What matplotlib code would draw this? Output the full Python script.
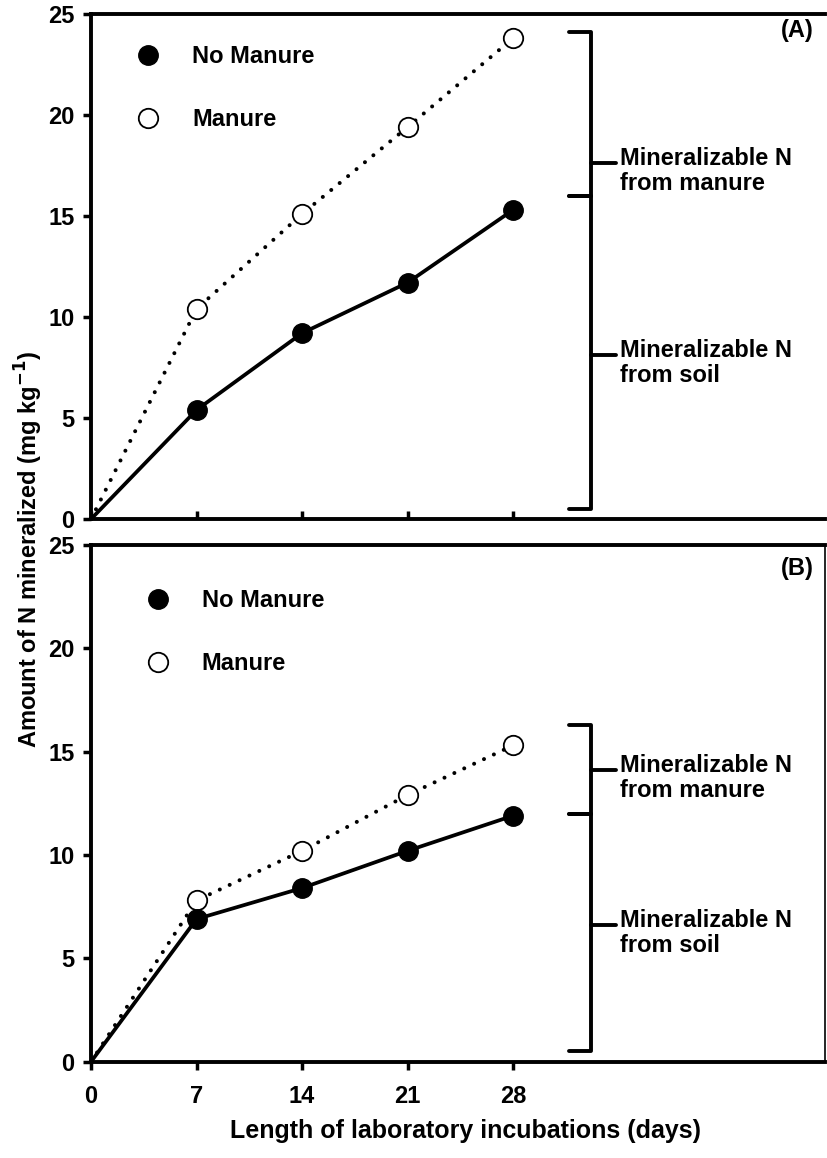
import matplotlib.pyplot as plt
from matplotlib.lines import Line2D
from matplotlib.transforms import ScaledTranslation

plt.rcParams['font.family'] = ['Liberation Sans', 'DejaVu Sans']
plt.rcParams['font.weight'] = 'bold'
plt.rcParams['font.size'] = 17

days = [0, 7, 14, 21, 28]

# panel A
a_no_manure = [0, 5.4, 9.2, 11.7, 15.3]
a_manure = [0, 10.4, 15.1, 19.4, 23.8]
# panel B
b_no_manure = [0, 6.9, 8.4, 10.2, 11.9]
b_manure = [0, 7.8, 10.2, 12.9, 15.3]

# bracket limits (mg/kg): bottom, split, top ; label ticks: soil, manure
a_bracket = [0.5, 16.0, 24.1]
a_marks = [8.1, 17.6]
b_bracket = [0.5, 12.0, 16.3]
b_marks = [6.6, 14.1]

fig = plt.figure(figsize=(8.28, 11.58), dpi=100)
axA = fig.add_axes([0.110, 0.5518, 0.8864, 0.4361])
axB = fig.add_axes([0.110, 0.0832, 0.8864, 0.4462])


def panel(ax, no_manure, manure, bracket, marks, tag, leg_xy, top):
    ax.plot(days, manure, color='black', lw=2.9, linestyle=(0, (0.01, 2.7)),
            dash_capstyle='round', marker='o', ms=14, mfc='white', mec='black',
            mew=1.3, markevery=[1, 2, 3, 4], zorder=3)
    ax.plot(days, no_manure, color='black', lw=2.7, marker='o', ms=14,
            mfc='black', mec='black', markevery=[1, 2, 3, 4], zorder=4)

    ax.set_xlim(0, 48.7)
    ax.set_ylim(0, 25)
    ax.set_yticks([0, 5, 10, 15, 20, 25])
    ax.set_xticks([0, 7, 14, 21, 28])
    for s in ['left', 'bottom', 'top']:
        ax.spines[s].set_linewidth(2.8)
    if top:
        ax.spines['right'].set_visible(False)
        ax.tick_params(axis='x', direction='in', length=6, width=2.5, labelbottom=False)
    else:
        ax.spines['right'].set_linewidth(1.2)
        ax.tick_params(axis='x', direction='out', length=6, width=2.5, pad=11)
    ax.tick_params(axis='y', direction='out', length=6, width=2.5, pad=6)
    ax.tick_params(top=False, right=False)

    # legend
    h1 = Line2D([], [], color='black', linestyle='none', marker='o', ms=14, mfc='black')
    h2 = Line2D([], [], color='black', linestyle='none', marker='o', ms=14,
                mfc='white', mew=1.3)
    ax.legend([h1, h2], ['No Manure', 'Manure'], loc='upper left', bbox_to_anchor=leg_xy,
              frameon=False, handlelength=1.0, handletextpad=1.35, labelspacing=1.7,
              borderpad=0, borderaxespad=0, prop={'weight': 'bold', 'size': 17})

    ax.text(0.985, 0.967 if top else 0.955, tag, transform=ax.transAxes,
            ha='right', va='center', fontweight='bold')

    # brackets
    x0, x1, x2 = 31.7, 33.2, 34.8
    lo, mid, hi = bracket
    kw = dict(color='black', lw=2.8, solid_capstyle='round', clip_on=False)
    ax.plot([x0, x1, x1, x0], [hi, hi, mid, mid], **kw)
    ax.plot([x1, x1, x0], [mid, lo, lo], **kw)
    ax.plot([x0, x1], [mid, mid], **kw)
    shift = ax.transData + ScaledTranslation(0, 12 / 72, fig.dpi_scale_trans)
    for y, lab in zip(marks, ['Mineralizable N\nfrom soil', 'Mineralizable N\nfrom manure']):
        ax.plot([x1, x2], [y, y], **kw)
        ax.text(x2 + 0.3, y, lab, ha='left', va='top', fontweight='bold',
                linespacing=1.12, transform=shift)


panel(axA, a_no_manure, a_manure, a_bracket, a_marks, '(A)', (0.062, 0.939), True)
panel(axB, b_no_manure, b_manure, b_bracket, b_marks, '(B)', (0.075, 0.915), False)

fig.text(0.035, 0.526, 'Amount of N mineralized (mg kg$^{\\mathbf{-1}}$)', rotation=90,
         ha='center', va='center', fontweight='bold')
fig.text(0.562, 0.023, 'Length of laboratory incubations (days)', ha='center',
         va='center', fontweight='bold', fontsize=18)

fig.savefig('out.png', dpi=100)
